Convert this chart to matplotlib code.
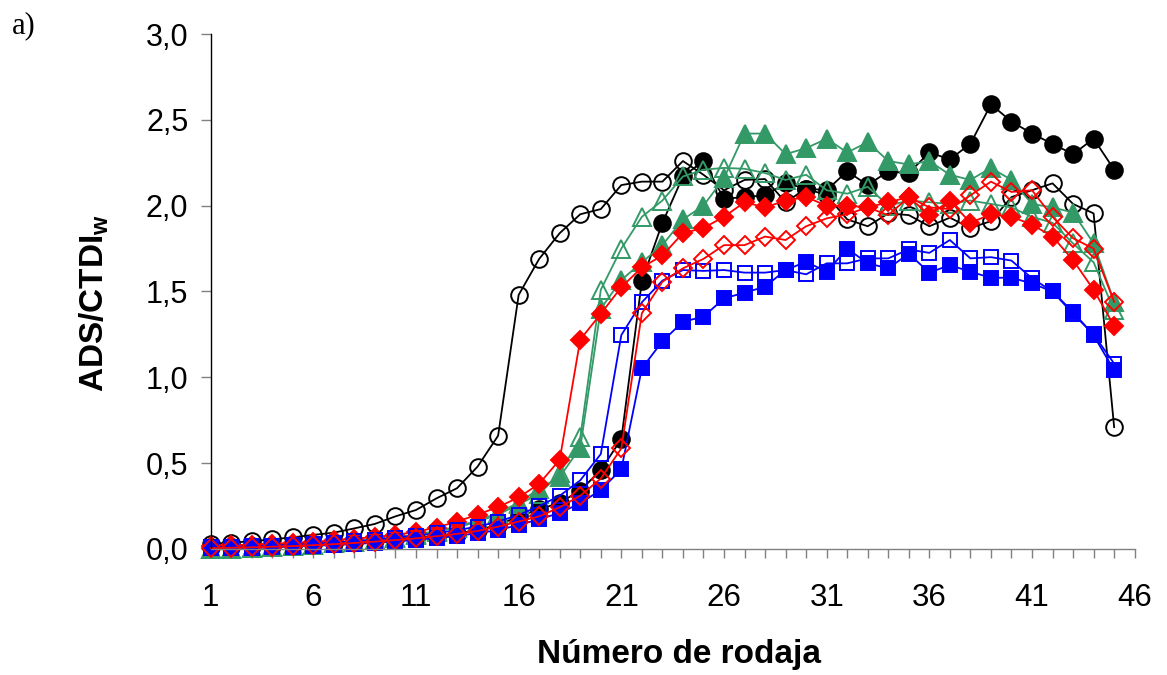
import matplotlib
matplotlib.use('Agg')
import matplotlib.pyplot as plt
from matplotlib.ticker import FixedLocator

plt.rcParams['font.family'] = ['Liberation Sans', 'DejaVu Sans']
plt.rcParams['mathtext.fontset'] = 'custom'
plt.rcParams['mathtext.rm'] = 'Liberation Sans'
plt.rcParams['mathtext.bf'] = 'Liberation Sans:bold'

# numero de rodaja
slices = list(range(1, 46))

# circulos abiertos negros
black_open = [0.03, 0.037, 0.045, 0.056, 0.068, 0.082, 0.095, 0.12, 0.146, 0.19,
              0.227, 0.295, 0.354, 0.48, 0.66, 1.48, 1.69, 1.84, 1.95, 1.98,
              2.12, 2.14, 2.14, 2.26, 2.18, 2.09, 2.15, 2.155, 2.02, 2.10,
              2.06, 1.92, 1.88, 1.955, 1.945, 1.88, 1.93, 1.87, 1.91, 2.05,
              2.09, 2.13, 2.01, 1.955, 0.71]
# circulos rellenos negros
black_fill = [0.01, 0.012, 0.015, 0.02, 0.025, 0.03, 0.035, 0.042, 0.05, 0.057,
              0.066, 0.077, 0.09, 0.11, 0.14, 0.19, 0.23, 0.27, 0.34, 0.46,
              0.64, 1.56, 1.90, 2.17, 2.26, 2.04, 2.05, 2.06, 2.13, 2.10,
              2.09, 2.20, 2.12, 2.20, 2.19, 2.31, 2.27, 2.36, 2.59, 2.49,
              2.42, 2.36, 2.30, 2.39, 2.21]
# triangulos rellenos verdes
green_fill = [0.0, 0.002, 0.006, 0.01, 0.017, 0.024, 0.033, 0.043, 0.055, 0.068,
              0.085, 0.105, 0.13, 0.165, 0.21, 0.27, 0.35, 0.42, 0.59, 1.40,
              1.567, 1.67, 1.77, 1.92, 2.0, 2.16, 2.42, 2.42, 2.30, 2.335,
              2.39, 2.31, 2.37, 2.26, 2.24, 2.26, 2.18, 2.15, 2.22, 2.15,
              2.01, 1.99, 1.96, 1.78, 1.44]
# triangulos abiertos verdes
green_open = [0.0, 0.002, 0.006, 0.01, 0.017, 0.024, 0.032, 0.042, 0.054, 0.066,
              0.082, 0.10, 0.125, 0.16, 0.20, 0.26, 0.32, 0.44, 0.65, 1.51,
              1.75, 1.935, 2.03, 2.17, 2.21, 2.22, 2.215, 2.19, 2.15, 2.18,
              2.09, 2.07, 2.11, 2.00, 2.03, 2.02, 2.01, 2.03, 2.01, 1.99,
              1.935, 1.90, 1.78, 1.67, 1.39]
# rombos rellenos rojos
red_fill = [0.02, 0.022, 0.025, 0.03, 0.035, 0.042, 0.05, 0.06, 0.07, 0.082,
            0.10, 0.125, 0.16, 0.20, 0.245, 0.30, 0.38, 0.52, 1.22, 1.37,
            1.525, 1.64, 1.71, 1.84, 1.87, 1.935, 2.02, 1.99, 2.03, 2.05,
            2.0, 2.0, 1.99, 2.02, 2.05, 1.945, 2.03, 1.90, 1.95, 1.935,
            1.89, 1.82, 1.683, 1.51, 1.30]
# rombos abiertos rojos
red_open = [0.005, 0.007, 0.01, 0.013, 0.017, 0.022, 0.028, 0.035, 0.043, 0.052,
            0.062, 0.074, 0.088, 0.105, 0.13, 0.16, 0.19, 0.243, 0.31, 0.41,
            0.586, 1.373, 1.557, 1.635, 1.69, 1.77, 1.77, 1.82, 1.80, 1.88,
            1.926, 1.95, 1.99, 1.945, 2.05, 1.99, 1.98, 2.06, 2.14, 2.08,
            2.09, 1.935, 1.81, 1.75, 1.44]
# cuadrados abiertos azules
blue_open = [0.01, 0.012, 0.015, 0.019, 0.024, 0.03, 0.037, 0.045, 0.055, 0.066,
             0.078, 0.092, 0.11, 0.13, 0.16, 0.198, 0.25, 0.31, 0.40, 0.553,
             1.246, 1.437, 1.563, 1.625, 1.62, 1.625, 1.61, 1.61, 1.625, 1.60,
             1.664, 1.664, 1.693, 1.693, 1.745, 1.725, 1.80, 1.693, 1.70, 1.68,
             1.577, 1.50, 1.37, 1.25, 1.08]
# cuadrados rellenos azules
blue_fill = [0.005, 0.006, 0.008, 0.011, 0.014, 0.018, 0.023, 0.029, 0.036, 0.044,
             0.053, 0.064, 0.077, 0.092, 0.11, 0.14, 0.173, 0.21, 0.266, 0.344,
             0.464, 1.052, 1.21, 1.324, 1.353, 1.46, 1.493, 1.528, 1.625, 1.673,
             1.615, 1.75, 1.664, 1.635, 1.72, 1.61, 1.654, 1.615, 1.58, 1.58,
             1.547, 1.50, 1.38, 1.245, 1.04]

x_ticks = [1, 6, 11, 16, 21, 26, 31, 36, 41, 46]
y_ticks = [0.0, 0.5, 1.0, 1.5, 2.0, 2.5, 3.0]
y_tick_labels = ['0,0', '0,5', '1,0', '1,5', '2,0', '2,5', '3,0']

GREEN = '#339966'

fig = plt.figure(figsize=(11.67, 6.75), dpi=100)
ax = fig.add_axes([0.1805, 0.1867, 0.7918, 0.7629])

# (datos, color, marcador, tamano, relleno)
series = [
    (black_open, 'black', 'o', 12, False),
    (black_fill, 'black', 'o', 12, True),
    (green_fill, GREEN, '^', 12.5, True),
    (green_open, GREEN, '^', 12.5, False),
    (red_fill, 'red', 'D', 9.5, True),
    (blue_open, 'blue', 's', 10.5, False),
    (blue_fill, 'blue', 's', 10.5, True),
    (red_open, 'red', 'D', 9.5, False),
]
for vals, col, mk, ms, filled in series:
    ax.plot(slices, vals, color=col, lw=1.3, marker=mk, ms=ms,
            mfc=col if filled else 'none', mec=col, mew=1.4, clip_on=False)

ax.set_xlim(1, 46)
ax.set_ylim(0, 3.0)
ax.xaxis.set_major_locator(FixedLocator(x_ticks))
ax.xaxis.set_minor_locator(FixedLocator(list(range(1, 47))))
ax.set_xticklabels([str(t) for t in x_ticks])
ax.set_yticks(y_ticks)
ax.set_yticklabels(y_tick_labels)

for s in ['top', 'right']:
    ax.spines[s].set_visible(False)
ax.spines['left'].set_linewidth(1.0)
ax.spines['bottom'].set_color('#808080')
ax.spines['bottom'].set_linewidth(1.0)

ax.tick_params(axis='y', which='major', direction='out', length=7, width=1,
               color='#808080', labelsize=22, pad=9)
ax.tick_params(axis='x', which='both', direction='out', length=6.5, width=1,
               color='#808080', labelsize=22.5, pad=18)

ax.set_xlabel('Número de rodaja', fontsize=24, fontweight='bold')
ax.xaxis.set_label_coords(0.507, -0.175)
ax.set_ylabel(r'ADS/CTDI$_{\mathbf{w}}$', fontsize=24, fontweight='bold')
ax.yaxis.set_label_coords(-0.108, 0.478)

fig.text(0.01, 0.962, 'a)', fontsize=22, family='Liberation Serif', va='center')

fig.savefig('out.png', dpi=100)
